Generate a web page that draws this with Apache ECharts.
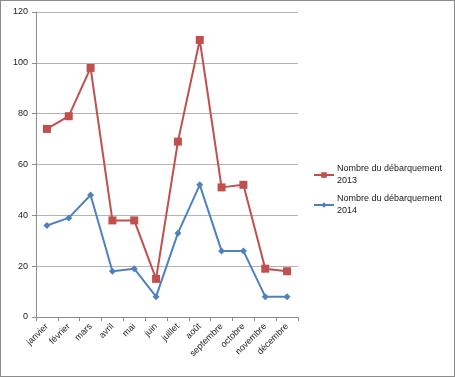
<!DOCTYPE html>
<html>
<head>
<meta charset="utf-8">
<script src="https://cdn.jsdelivr.net/npm/echarts@6/dist/echarts.min.js"></script>
<style>
  html, body { margin: 0; padding: 0; background: #fff; }
  #chart { width: 455px; height: 377px; box-sizing: border-box; border: 1px solid #8c8c8c; }
</style>
</head>
<body>
<div id="chart"></div>
<script>
// mois
const months = ['janvier', 'février', 'mars', 'avril', 'mai', 'juin', 'juillet', 'août', 'septembre', 'octobre', 'novembre', 'décembre'];
// débarquements
const data2013 = [74, 79, 98, 38, 38, 15, 69, 109, 51, 52, 19, 18];
const data2014 = [36, 39, 48, 18, 19, 8, 33, 52, 26, 26, 8, 8];
const yTicks = [0, 20, 40, 60, 80, 100, 120];

const myChart = echarts.init(document.getElementById('chart'));
const font = 'Liberation Sans, Arial, sans-serif';
const option = {
  animation: false,
  textStyle: { fontFamily: font },
  grid: { left: 35, right: 156, top: 11, bottom: 59 },
  legend: {
    orient: 'vertical',
    left: 312,
    top: 156,
    padding: 0,
    itemWidth: 20,
    itemHeight: 7,
    itemGap: -6,
    textStyle: { fontSize: 9, color: '#222', lineHeight: 12, fontFamily: font, padding: [12, 0, 0, -2] },
    formatter: name => name.replace(/ (\d{4})$/, '\n$1')
  },
  xAxis: {
    type: 'category',
    data: months,
    boundaryGap: true,
    axisLine: { lineStyle: { color: '#8c8c8c' } },
    axisTick: { show: true, length: 4, lineStyle: { color: '#8c8c8c' } },
    axisLabel: { rotate: 45, fontSize: 9, color: '#222', margin: 8, interval: 0 }
  },
  yAxis: {
    type: 'value',
    min: yTicks[0],
    max: yTicks[yTicks.length - 1],
    interval: 20,
    axisLine: { show: true, lineStyle: { color: '#8c8c8c' } },
    axisTick: { show: true, length: 4, lineStyle: { color: '#8c8c8c' } },
    axisLabel: { fontSize: 9, color: '#222', margin: 8 },
    splitLine: { lineStyle: { color: '#b4b4b4' } }
  },
  series: [
    {
      name: 'Nombre du débarquement 2013',
      type: 'line',
      data: data2013,
      symbol: 'rect',
      symbolSize: 8,
      color: '#C0504D',
      lineStyle: { width: 2 },
      itemStyle: { color: '#C0504D' }
    },
    {
      name: 'Nombre du débarquement 2014',
      type: 'line',
      data: data2014,
      symbol: 'diamond',
      symbolSize: 7,
      color: '#4F81BD',
      lineStyle: { width: 2 },
      itemStyle: { color: '#4F81BD' }
    }
  ]
};
myChart.setOption(option);
</script>
</body>
</html>
